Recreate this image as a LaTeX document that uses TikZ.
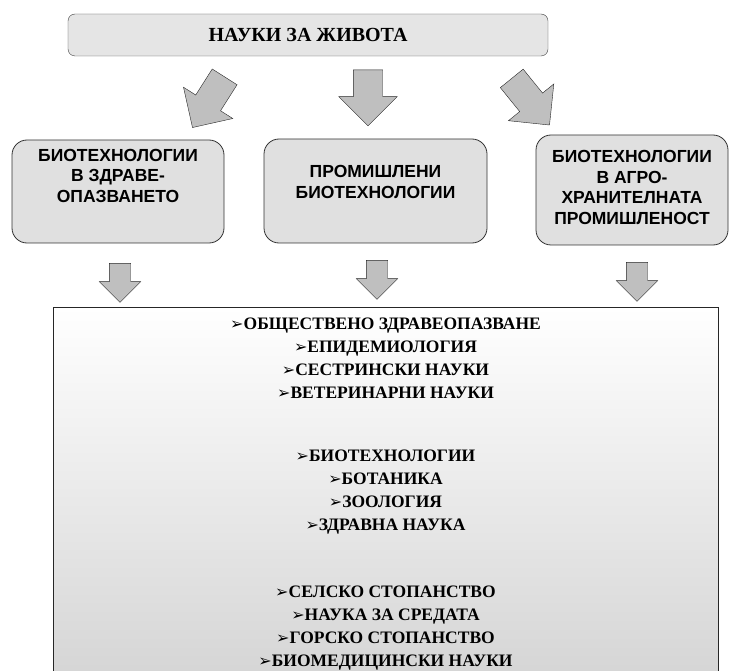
\documentclass[tikz,border=0pt]{standalone}
\usepackage{fontspec}
\setmainfont{Liberation Serif}
\setsansfont{Liberation Sans}
\newfontfamily\symfont{DejaVu Sans}
\usetikzlibrary{shapes.arrows, positioning}

\newcommand{\bul}{{\symfont\fontsize{16}{16}\selectfont ➢}}

\tikzset{
  titlebox/.style={draw=black!75, fill=black!10, rounded corners=7pt, minimum width=480pt, minimum height=42pt, font=\bfseries\fontsize{20}{22}\selectfont},
  branchbox/.style={draw=black!80, fill=black!12, rounded corners=15pt, thick},
  branchtext/.style={font=\sffamily\bfseries\fontsize{17.5}{20.5}\selectfont, align=center},
  bigarrow/.style={single arrow, draw=black!85, fill=black!25, inner xsep=0pt, inner ysep=14.5pt, minimum height=60pt, single arrow head extend=14.5pt},
  smallarrow/.style={single arrow, draw=black!85, fill=black!25, inner xsep=0pt, inner ysep=10.5pt, minimum height=39pt, single arrow head extend=10pt, rotate=-90},
  listtext/.style={font=\bfseries\fontsize{17.5}{23}\selectfont, align=center}
}

\begin{document}
\begin{tikzpicture}[x=1pt, y=-1pt]

  % Frame
  \useasboundingbox (0,0) rectangle (731,671);
  \clip (0,0) rectangle (731,671);

  % Title box
  \node[titlebox] (life) at (308,35) {НАУКИ ЗА ЖИВОТА};

  % Arrows from title to the three branches
  \node[bigarrow, rotate=237.6] (arrL) at (212.5,96) {};
  \node[bigarrow, rotate=-90, minimum height=56pt] (arrM) at (368,90.5) {};
  \node[bigarrow, rotate=-51] (arrR) at (526,96) {};

  % Three branch boxes
  \node[branchbox, minimum width=212pt, minimum height=103pt] (health) at (118,191.5) {};
  \node[branchtext] (healthtxt) at (118,175.5) {БИОТЕХНОЛОГИИ\\В ЗДРАВЕ-\\ОПАЗВАНЕТО};

  \node[branchbox, minimum width=223pt, minimum height=104pt] (industry) at (375.5,191) {};
  \node[branchtext] (industrytxt) at (375.5,182) {ПРОМИШЛЕНИ\\БИОТЕХНОЛОГИИ};

  \node[branchbox, minimum width=192pt, minimum height=110pt] (agro) at (632,190) {};
  \node[branchtext] (agrotxt) at (632,187.5) {БИОТЕХНОЛОГИИ\\В АГРО-\\ХРАНИТЕЛНАТА\\ПРОМИШЛЕНОСТ};

  % Small arrows down to the list
  \node[smallarrow] (downL) at (120,277.5) {};
  \node[smallarrow] (downM) at (377,274.5) {};
  \node[smallarrow] (downR) at (637,276.5) {};

  % List box
  \draw[draw=black!85, thick, top color=white, bottom color=black!17] (53,307) rectangle (718,690);
  \coordinate (list) at (385.5,307);

  \node[listtext, anchor=north] (groupA) at ([yshift=-7pt]list) {\bul ОБЩЕСТВЕНО ЗДРАВЕОПАЗВАНЕ\\\bul ЕПИДЕМИОЛОГИЯ\\\bul СЕСТРИНСКИ НАУКИ\\\bul ВЕТЕРИНАРНИ НАУКИ};
  \node[listtext, below=45pt of groupA] (groupB) {\bul БИОТЕХНОЛОГИИ\\\bul БОТАНИКА\\\bul ЗООЛОГИЯ\\\bul ЗДРАВНА НАУКА};
  \node[listtext, below=44pt of groupB] (groupC) {\bul СЕЛСКО СТОПАНСТВО\\\bul НАУКА ЗА СРЕДАТА\\\bul ГОРСКО СТОПАНСТВО\\\bul БИОМЕДИЦИНСКИ НАУКИ};

\end{tikzpicture}
\end{document}
